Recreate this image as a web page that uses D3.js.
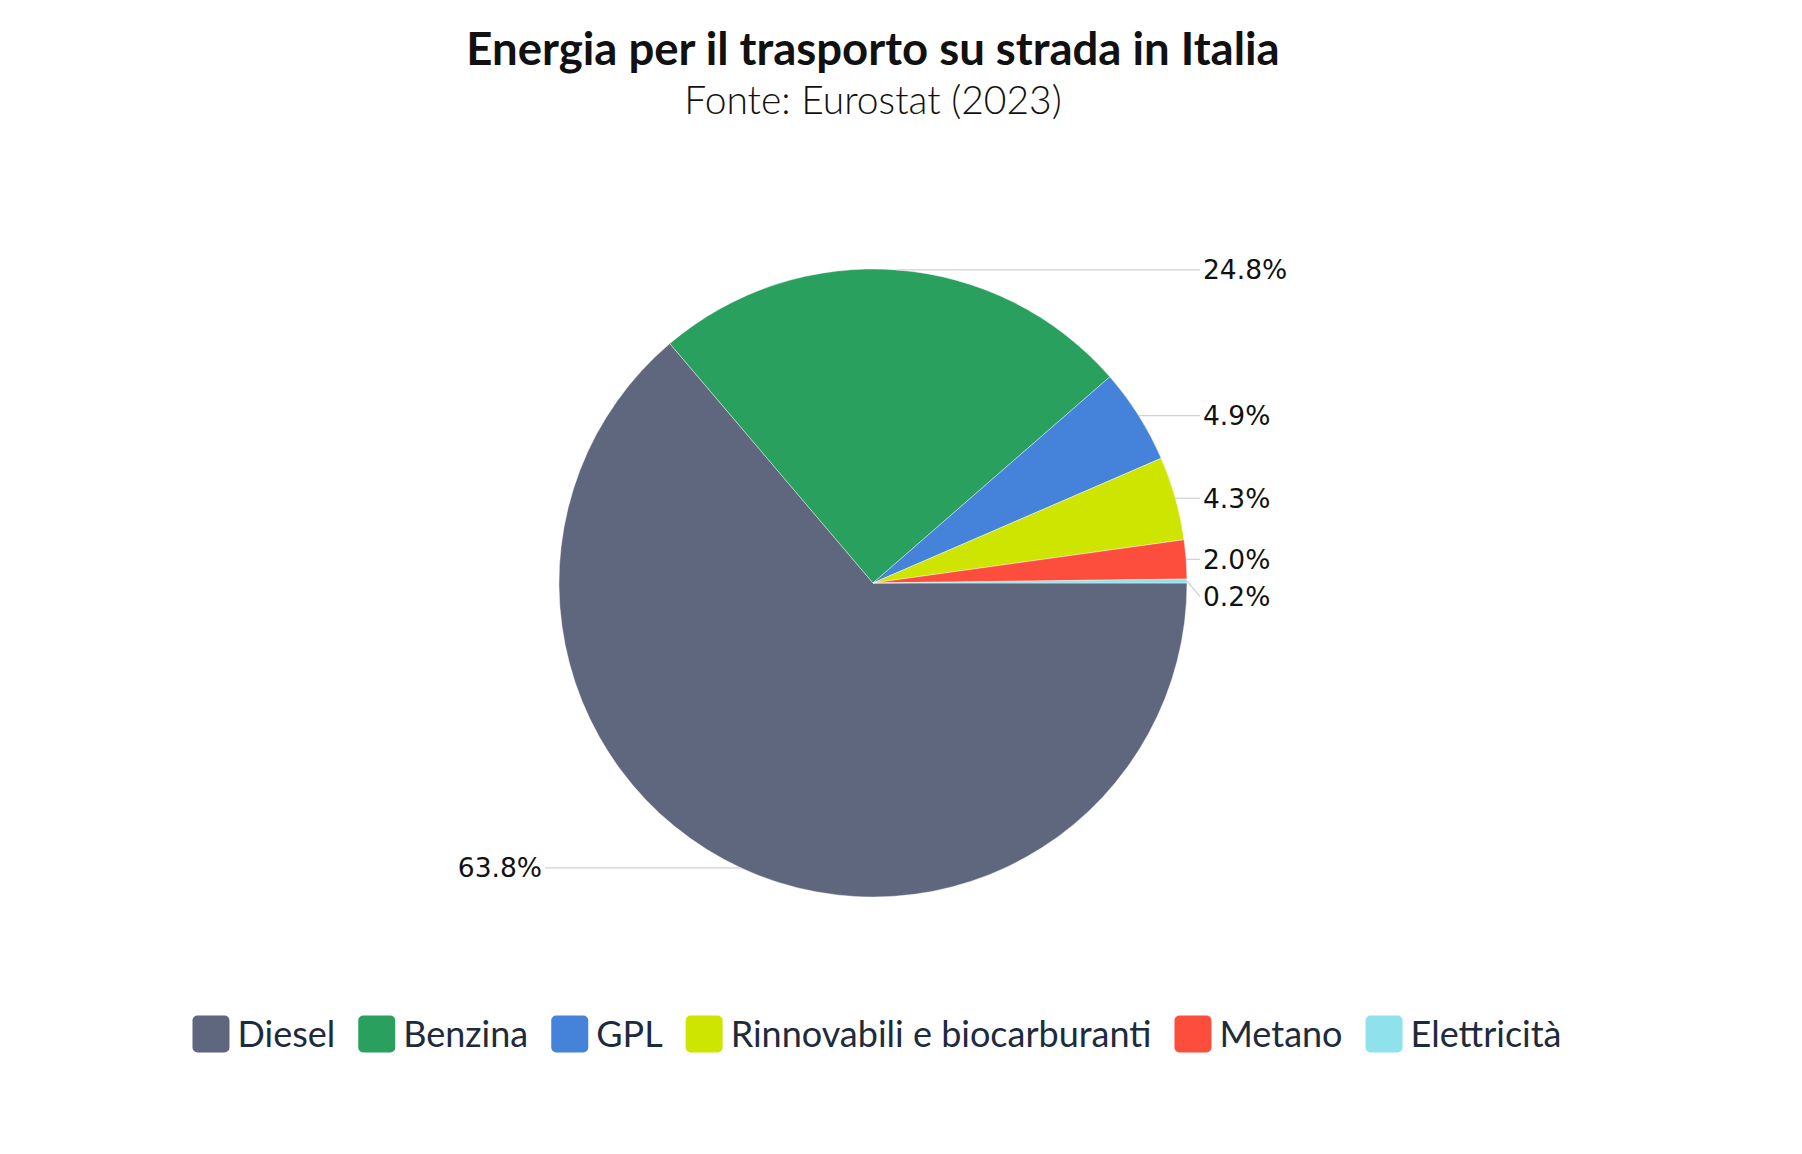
<!DOCTYPE html>
<html>
<head>
<meta charset="utf-8">
<script src="https://cdn.jsdelivr.net/npm/d3@7"></script>
<style>
  html, body { margin: 0; padding: 0; background: #ffffff; }
  svg { display: block; }
</style>
</head>
<body>
<svg id="chart" width="1802" height="1154"></svg>
<script>
const categories = ["Diesel", "Benzina", "GPL", "Rinnovabili e biocarburanti", "Metano", "Elettricità"];
const values = [63.8, 24.8, 4.9, 4.3, 2.0, 0.2];
const colors = ["#5f677f", "#2aa05f", "#4583db", "#cde500", "#fd4e3d", "#8fe1ec"];
const titleText = "Energia per il trasporto su strada in Italia";
const subtitleText = "Fonte: Eurostat (2023)";

const W = 1802, H = 1154;
const cx = 873, cy = 583, R = 314;

const svg = d3.select("#chart");

svg.append("text")
  .attr("x", cx).attr("y", 65)
  .attr("text-anchor", "middle")
  .style("font-family", "Lato")
  .style("font-weight", 700)
  .style("font-size", "45.5px")
  .style("fill", "#111111")
  .text(titleText);

svg.append("text")
  .attr("x", cx).attr("y", 114)
  .attr("text-anchor", "middle")
  .style("font-family", "Lato")
  .style("font-weight", 300)
  .style("font-size", "39px")
  .style("fill", "#111111")
  .text(subtitleText);

const data = categories.map((c, i) => ({ name: c, value: values[i], color: colors[i] }));

const pie = d3.pie()
  .sort(null)
  .value(d => d.value)
  .startAngle(Math.PI / 2)
  .endAngle(Math.PI / 2 + 2 * Math.PI);

const arcs = pie(data);
const arc = d3.arc().innerRadius(0).outerRadius(R);

const g = svg.append("g").attr("transform", `translate(${cx},${cy})`);

g.selectAll("path.slice")
  .data(arcs)
  .join("path")
  .attr("class", "slice")
  .attr("d", arc)
  .attr("fill", d => d.data.color)
  .attr("stroke", "#ffffff")
  .attr("stroke-width", 0.4);

const fmt = d3.format(".1f");
const labels = arcs.map(a => {
  const mid = (a.startAngle + a.endAngle) / 2;
  const px = R * Math.sin(mid), py = -R * Math.cos(mid);
  const right = Math.sin(mid) >= 0;
  return { a, mid, px, py, right, ly: py };
});
const rightL = labels.filter(l => l.right).sort((a, b) => a.py - b.py);
const minGap = 37;
for (let i = 1; i < rightL.length; i++) {
  if (rightL[i].ly - rightL[i - 1].ly < minGap) rightL[i].ly = rightL[i - 1].ly + minGap;
}

const lg = g.append("g");
labels.forEach(l => {
  const ex = l.right ? R + 13 : -(R + 14);
  const pts = [[l.px, l.py], [ex, l.ly]];
  lg.append("path")
    .attr("d", d3.line()(pts))
    .attr("fill", "none")
    .attr("stroke", "#cfd0d8")
    .attr("stroke-width", 1.2);
  lg.append("text")
    .attr("x", l.right ? ex + 3 : ex - 3)
    .attr("y", l.ly)
    .attr("dy", "0.36em")
    .attr("text-anchor", l.right ? "start" : "end")
    .style("font-family", "DejaVu Sans")
    .style("font-size", "26.5px")
    .style("fill", "#111111")
    .text(fmt(l.a.data.value) + "%");
});

const legend = svg.append("g");
const sq = 37, gapText = 8, gapItem = 23, legY = 1034;
let x = 0;
data.forEach(d => {
  const it = legend.append("g");
  it.append("rect")
    .attr("x", 0).attr("y", -sq / 2)
    .attr("width", sq).attr("height", sq)
    .attr("rx", 5).attr("ry", 5)
    .attr("fill", d.color);
  const t = it.append("text")
    .attr("x", sq + gapText).attr("y", 0)
    .attr("dy", "0.35em")
    .style("font-family", "Lato")
    .style("font-size", "36px")
    .style("fill", "#1e2b3c")
    .text(d.name);
  const w = sq + gapText + t.node().getComputedTextLength();
  it.attr("transform", `translate(${x},${legY})`);
  x += w + gapItem;
});
const totalW = x - gapItem;
legend.attr("transform", `translate(${877 - totalW / 2},0)`);
</script>
</body>
</html>
